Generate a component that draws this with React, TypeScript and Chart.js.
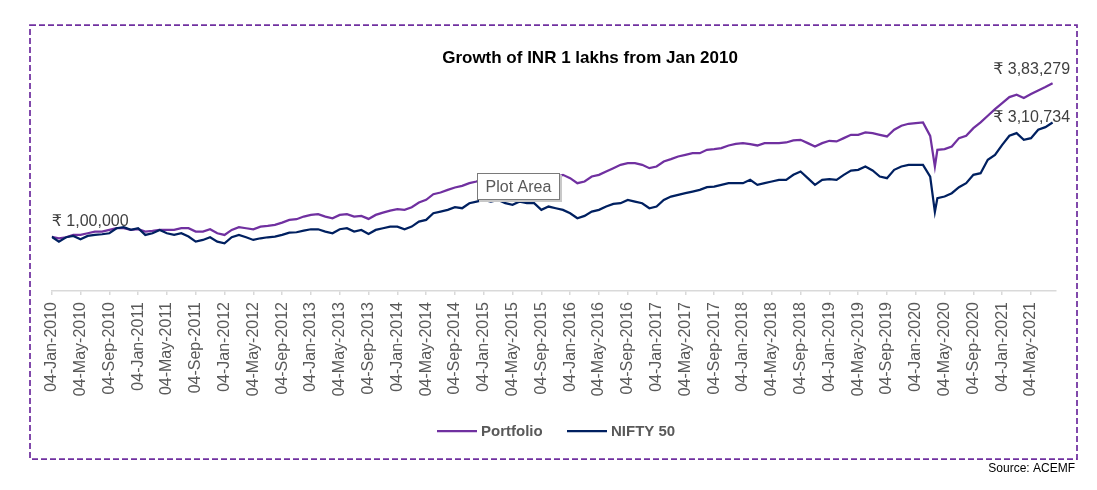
import { useEffect, useRef } from "react";
import { Chart, registerables } from "chart.js";

Chart.register(...registerables);

const FONT = "'Liberation Sans', 'DejaVu Sans', 'Noto Sans', Arial, sans-serif";

const chartTitle = "Growth of INR 1 lakhs from Jan 2010";
const sourceText = "Source: ACEMF";
const seriesNames = ["Portfolio", "NIFTY 50"];
const startLabel = "₹ 1,00,000";
const portfolioEndLabel = "₹ 3,83,279";
const niftyEndLabel = "₹ 3,10,734";

// x-axis tick labels, one every 4 months (month index 0 = Jan 2010)
const tickLabels = [
  "04-Jan-2010", "04-May-2010", "04-Sep-2010",
  "04-Jan-2011", "04-May-2011", "04-Sep-2011",
  "04-Jan-2012", "04-May-2012", "04-Sep-2012",
  "04-Jan-2013", "04-May-2013", "04-Sep-2013",
  "04-Jan-2014", "04-May-2014", "04-Sep-2014",
  "04-Jan-2015", "04-May-2015", "04-Sep-2015",
  "04-Jan-2016", "04-May-2016", "04-Sep-2016",
  "04-Jan-2017", "04-May-2017", "04-Sep-2017",
  "04-Jan-2018", "04-May-2018", "04-Sep-2018",
  "04-Jan-2019", "04-May-2019", "04-Sep-2019",
  "04-Jan-2020", "04-May-2020", "04-Sep-2020",
  "04-Jan-2021", "04-May-2021",
];

// monthly samples (Jan 2010 .. Aug 2021) plus the Mar-2020 crash low
const lastMonth = 139;
const crashMonth = 122.65;

const portfolio = [
  100000, 97260, 99110, 103420, 103420, 106490, 109570, 109570, 112650, 115730,
  115730, 112650, 113880, 109570, 110800, 112650, 112650, 112650, 115730, 115730,
  109570, 109570, 113880, 106490, 103420, 112650, 117570, 115730, 113880, 118800,
  120040, 121880, 126190, 131110, 132350, 137270, 140350, 141580, 137270, 134190,
  140350, 141580, 137270, 138500, 133000, 140350, 144660, 148350, 150810, 149580,
  154510, 163130, 168050, 178520, 181590, 186520, 190830, 193900, 198830, 201910,
  208680, 204990, 209290, 201910, 200060, 206220, 204990, 208060, 201910, 206220,
  209910, 214220, 208060, 198830, 201910, 211140, 214220, 220370, 226530, 232690,
  235760, 235760, 232690, 226530, 229610, 238840, 243150, 248070, 251150, 254230,
  254230, 260390, 261620, 263460, 268390, 271470, 272700, 270850, 268390, 272700,
  272700, 272700, 273930, 277620, 278850, 272700, 266540, 272700, 277010, 275770,
  281930, 288090, 288090, 292400, 291160, 288090, 285010, 297320, 304710, 308400,
  309630, 310860, 286000,
  229610,
  260390, 261620, 266540, 281930, 286240, 300400, 310860,
  323170, 335490, 346560, 357650, 361960, 355800, 363190, 369960, 376110, 383279,
];

const nifty = [
  100000, 91100, 99110, 101570, 95410, 101570, 103420, 104650, 106490, 115730,
  117570, 112650, 115730, 103420, 106490, 112650, 106490, 103420, 106490, 100340,
  91100, 94180, 99110, 91100, 88030, 99110, 103420, 99110, 94180, 97260,
  99110, 100340, 103420, 107720, 108340, 111420, 113880, 113880, 109570, 106490,
  113880, 115730, 109570, 112650, 105000, 112650, 115730, 118800, 118800, 113880,
  118800, 128040, 131110, 143430, 146510, 149580, 154510, 152660, 161890, 164970,
  168050, 164970, 168050, 161890, 158820, 164970, 161890, 161890, 149580, 155740,
  152660, 149580, 143430, 134190, 138500, 146510, 149580, 155740, 160660, 161890,
  168050, 164970, 161890, 152660, 155740, 168050, 174210, 177280, 180360, 183440,
  186520, 191440, 192670, 195750, 198830, 198830, 198830, 204990, 195750, 198830,
  201910, 204990, 204990, 214220, 220370, 208060, 195750, 204990, 206220, 204990,
  214220, 222220, 223450, 229610, 222220, 211140, 208060, 223450, 229610, 232690,
  232690, 232690, 211000,
  146000,
  171130, 174210, 180360, 191440, 198830, 214220, 217290,
  241920, 251150, 269620, 286240, 291160, 278850, 281930, 297320, 302240, 310734,
];

const pointMonths: number[] = [];
for (let i = 0; i <= lastMonth; i++) {
  pointMonths.push(i);
  if (i === 122) pointMonths.push(crashMonth);
}

const PURPLE = "#7030A0";
const NAVY = "#002060";

const decorPlugin = {
  id: "decor",
  afterDraw(chart: any) {
    const { ctx } = chart;
    const xs = chart.scales.x;
    const ys = chart.scales.y;
    ctx.save();

    // dashed outer border
    ctx.strokeStyle = PURPLE;
    ctx.lineWidth = 1.75;
    ctx.setLineDash([6, 3]);
    ctx.strokeRect(30, 25, 1047, 434);
    ctx.setLineDash([]);

    // title
    ctx.fillStyle = "#000000";
    ctx.font = `bold 17px ${FONT}`;
    ctx.textAlign = "center";
    ctx.textBaseline = "middle";
    ctx.fillText(chartTitle, 590, 58);

    // data labels
    ctx.font = `16px ${FONT}`;
    ctx.fillStyle = "#404040";
    const x0 = xs.getPixelForValue(pointMonths[0]);
    ctx.textAlign = "left";
    ctx.fillText(startLabel, x0, ys.getPixelForValue(portfolio[0]) - 15);
    const n = pointMonths.length - 1;
    const xe = xs.getPixelForValue(pointMonths[n]);
    ctx.textAlign = "center";
    ctx.fillText(portfolioEndLabel, xe - 21, ys.getPixelForValue(portfolio[n]) - 14);
    ctx.fillText(niftyEndLabel, xe - 21, ys.getPixelForValue(nifty[n]) - 5);

    // "Plot Area" hover box
    ctx.fillStyle = "#c8c8c8";
    ctx.fillRect(479, 175, 83, 27);
    ctx.fillStyle = "#ffffff";
    ctx.fillRect(477, 173, 83, 27);
    ctx.strokeStyle = "#7a7a7a";
    ctx.lineWidth = 1;
    ctx.strokeRect(477.5, 173.5, 82, 26);
    ctx.fillStyle = "#595959";
    ctx.font = `16px ${FONT}`;
    ctx.textAlign = "center";
    ctx.fillText("Plot Area", 518.5, 188);

    // legend
    const legendY = 431;
    const items = [
      { name: seriesNames[0], color: PURPLE, x: 437 },
      { name: seriesNames[1], color: NAVY, x: 567 },
    ];
    ctx.font = `bold 15px ${FONT}`;
    ctx.textAlign = "left";
    for (const it of items) {
      ctx.strokeStyle = it.color;
      ctx.lineWidth = 2.25;
      ctx.beginPath();
      ctx.moveTo(it.x, legendY);
      ctx.lineTo(it.x + 40, legendY);
      ctx.stroke();
      ctx.fillStyle = "#595959";
      ctx.fillText(it.name, it.x + 44, legendY + 1);
    }

    // source
    ctx.fillStyle = "#000000";
    ctx.font = `12px ${FONT}`;
    ctx.textAlign = "right";
    ctx.fillText(sourceText, 1075, 469);

    ctx.restore();
  },
};

export default function App() {
  const canvasRef = useRef<HTMLCanvasElement | null>(null);

  useEffect(() => {
    if (!canvasRef.current) return;
    const chart = new Chart(canvasRef.current, {
      type: "line",
      data: {
        datasets: [
          {
            label: seriesNames[0],
            data: pointMonths.map((m, i) => ({ x: m, y: portfolio[i] })),
            borderColor: PURPLE,
            backgroundColor: PURPLE,
            borderWidth: 2.25,
            pointRadius: 0,
            tension: 0,
            order: 1,
          },
          {
            label: seriesNames[1],
            data: pointMonths.map((m, i) => ({ x: m, y: nifty[i] })),
            borderColor: NAVY,
            backgroundColor: NAVY,
            borderWidth: 2.25,
            pointRadius: 0,
            tension: 0,
            order: 0,
          },
        ],
      },
      options: {
        responsive: false,
        animation: false,
        devicePixelRatio: 1,
        layout: { padding: { top: 47, left: 51.7, right: 40.8, bottom: 0 } },
        plugins: {
          legend: { display: false },
          tooltip: { enabled: false },
          title: { display: false },
        },
        scales: {
          x: {
            type: "linear",
            min: 0,
            max: 139.5,
            afterBuildTicks: (axis: any) => {
              axis.ticks = tickLabels.map((_, i) => ({ value: i * 4 }));
            },
            afterFit: (axis: any) => {
              axis.height = 199;
            },
            ticks: {
              autoSkip: false,
              minRotation: 90,
              maxRotation: 90,
              padding: 7,
              color: "#595959",
              font: { family: FONT, size: 16 },
              callback: (v: any) => tickLabels[Math.round(Number(v) / 4)] ?? "",
            },
            grid: {
              display: true,
              drawOnChartArea: false,
              drawTicks: true,
              tickLength: 4,
              color: "#d9d9d9",
              lineWidth: 1.5,
            },
            border: { display: true, color: "#d9d9d9", width: 1.5 },
          },
          y: { display: false, min: 0, max: 450000 },
        },
      },
      plugins: [decorPlugin],
    } as any);
    return () => chart.destroy();
  }, []);

  return (
    <div style={{ position: "absolute", left: 0, top: 0, width: 1097, height: 490, background: "#fff" }}>
      <canvas ref={canvasRef} width={1097} height={490} style={{ width: 1097, height: 490, display: "block" }} />
    </div>
  );
}
